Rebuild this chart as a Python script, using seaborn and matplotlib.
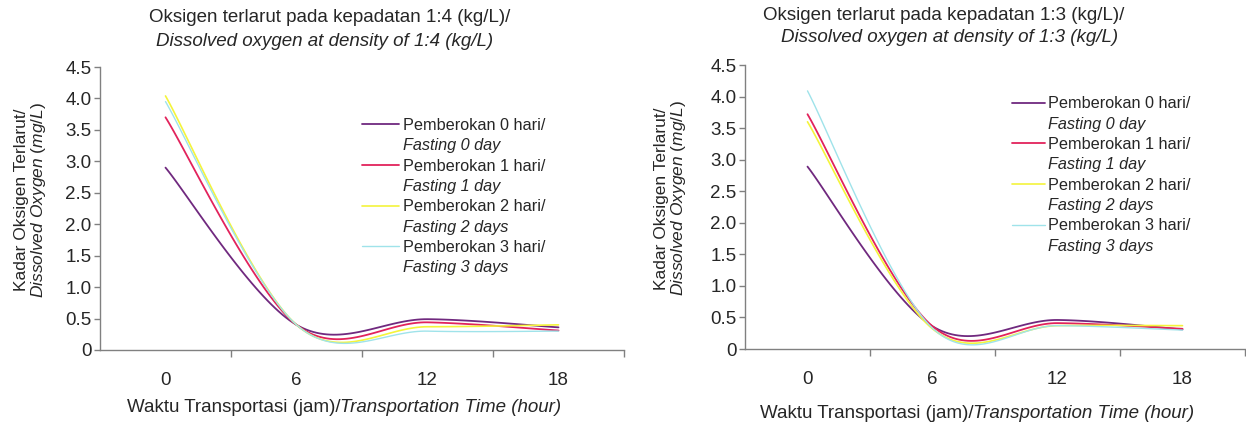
import matplotlib
matplotlib.use("Agg")
import matplotlib.pyplot as plt
from matplotlib.lines import Line2D
import numpy as np
import pandas as pd
import seaborn as sns

# transport time (hours) at which dissolved oxygen was measured
hours = [0, 6, 12, 18]

# density 1:4 (kg/L)
do_14_fast0 = [2.90, 0.40, 0.49, 0.36]
do_14_fast1 = [3.70, 0.40, 0.44, 0.31]
do_14_fast2 = [4.04, 0.40, 0.37, 0.40]
do_14_fast3 = [3.95, 0.40, 0.30, 0.30]

# density 1:3 (kg/L)
do_13_fast0 = [2.89, 0.36, 0.46, 0.31]
do_13_fast1 = [3.72, 0.36, 0.41, 0.32]
do_13_fast2 = [3.60, 0.32, 0.37, 0.37]
do_13_fast3 = [4.09, 0.33, 0.37, 0.30]

series_id = ["Pemberokan 0 hari/", "Pemberokan 1 hari/",
             "Pemberokan 2 hari/", "Pemberokan 3 hari/"]
series_en = ["Fasting 0 day", "Fasting 1 day", "Fasting 2 days", "Fasting 3 days"]
colors = ["#70297f", "#e2235c", "#f4f43c", "#9fe3ea"]
widths = [1.3, 1.3, 1.2, 1.0]

sns.set_style("white")
plt.rcParams["font.family"] = ["Liberation Sans", "DejaVu Sans"]
plt.rcParams["mathtext.fontset"] = "custom"
plt.rcParams["mathtext.rm"] = "Liberation Sans"
plt.rcParams["mathtext.it"] = "Liberation Sans:italic"

AXIS_COL = "#808080"
TXT = 13.5


def smooth(x, y, n=40):
    """Excel-style smoothed line: cubic bezier between points."""
    x = np.asarray(x, float)
    y = np.asarray(y, float)
    pts = np.column_stack([x, y])
    ext = np.vstack([pts[0], pts, pts[-1]])
    t = np.linspace(0, 1, n)[:, None]
    out = []
    for i in range(len(pts) - 1):
        p0 = ext[i + 1]
        p3 = ext[i + 2]
        c1 = p0 + (ext[i + 2] - ext[i]) / 6
        c2 = p3 - (ext[i + 3] - ext[i + 1]) / 6
        seg = ((1 - t) ** 3) * p0 + 3 * ((1 - t) ** 2) * t * c1 \
            + 3 * (1 - t) * t ** 2 * c2 + t ** 3 * p3
        out.append(seg if i == 0 else seg[1:])
    out = np.vstack(out)
    return out[:, 0], out[:, 1]


def draw_panel(ax, data, legend_pos, handle_len, ylab_x):
    handles, labels = [], []
    for vals, c, lw, lid, len_ in zip(data, colors, widths, series_id, series_en):
        xs, ys = smooth(hours, vals)
        df = pd.DataFrame({"x": xs, "y": ys})
        sns.lineplot(data=df, x="x", y="y", ax=ax, color=c, linewidth=lw,
                     sort=False, estimator=None)
        handles += [Line2D([], [], color=c, lw=lw), Line2D([], [], alpha=0)]
        labels += [lid, len_]
    ax.set_xlim(-3, 21)
    ax.set_ylim(0, 4.5)
    ax.set_yticks(np.arange(0, 4.51, 0.5))
    ax.set_yticklabels(["0"] + [f"{v:.1f}" for v in np.arange(0.5, 4.51, 0.5)])
    ax.set_xticks([3, 9, 15, 21])
    ax.set_xticklabels([])
    ax.set_xticks(hours, minor=True)
    ax.set_xticklabels([str(h) for h in hours], minor=True)
    ax.tick_params(axis="x", which="major", length=5, width=1, color=AXIS_COL,
                   direction="out", bottom=True)
    ax.tick_params(axis="x", which="minor", length=0, pad=16, labelsize=TXT)
    ax.tick_params(axis="y", length=4, width=1, color=AXIS_COL, direction="out",
                   left=True, pad=2, labelsize=TXT)
    for s in ["top", "right"]:
        ax.spines[s].set_visible(False)
    for s in ["left", "bottom"]:
        ax.spines[s].set_color(AXIS_COL)
        ax.spines[s].set_linewidth(1)
    ax.set_xlabel("")
    ax.set_ylabel("Kadar Oksigen Terlarut/\n$\\it{Dissolved\\ Oxygen\\ (mg/L)}$",
                  fontsize=12.5, linespacing=1.0)
    ax.yaxis.set_label_coords(ylab_x, 0.53)
    leg = ax.legend(handles, labels, loc="upper left", bbox_to_anchor=legend_pos,
                    frameon=False, fontsize=11.7, handlelength=handle_len,
                    handletextpad=0.2, labelspacing=0.33, borderpad=0,
                    borderaxespad=0)
    for i, txt in enumerate(leg.get_texts()):
        if i % 2 == 1:
            txt.set_style("italic")


def mixed_xlabel(fig, cx, y):
    # normal + italic part on one line, centred at cx (pixels)
    r = fig.canvas.get_renderer()
    a = fig.text(0, y, "Waktu Transportasi (jam)/", fontsize=TXT, va="center")
    b = fig.text(0, y, "Transportation Time (hour)", fontsize=TXT, va="center",
                 style="italic")
    wa = a.get_window_extent(r).width
    wb = b.get_window_extent(r).width
    x0 = cx - (wa + wb) / 2
    a.set_x(x0 / 1246)
    b.set_x((x0 + wa) / 1246)


fig = plt.figure(figsize=(12.46, 4.25), dpi=100)
ax1 = fig.add_axes([100 / 1246, 1 - 350 / 425, 524 / 1246, 283 / 425])
ax2 = fig.add_axes([745 / 1246, 1 - 349 / 425, 500 / 1246, 284 / 425])

draw_panel(ax1, [do_14_fast0, do_14_fast1, do_14_fast2, do_14_fast3],
           (0.50, 0.82), 2.3, -0.10)
draw_panel(ax2, [do_13_fast0, do_13_fast1, do_13_fast2, do_13_fast3],
           (0.534, 0.89), 2.0, -0.115)

fig.text(330 / 1246, 1 - 18 / 425, "Oksigen terlarut pada kepadatan 1:4 (kg/L)/",
         ha="center", va="center", fontsize=TXT)
fig.text(325 / 1246, 1 - 41 / 425, "Dissolved oxygen at density of 1:4 (kg/L)",
         ha="center", va="center", fontsize=TXT, style="italic")
fig.text(944 / 1246, 1 - 16 / 425, "Oksigen terlarut pada kepadatan 1:3 (kg/L)/",
         ha="center", va="center", fontsize=TXT)
fig.text(950 / 1246, 1 - 38 / 425, "Dissolved oxygen at density of 1:3 (kg/L)",
         ha="center", va="center", fontsize=TXT, style="italic")

mixed_xlabel(fig, 344, 1 - 408 / 425)
mixed_xlabel(fig, 977, 1 - 413 / 425)

fig.savefig("out.png", dpi=100, facecolor="white")
